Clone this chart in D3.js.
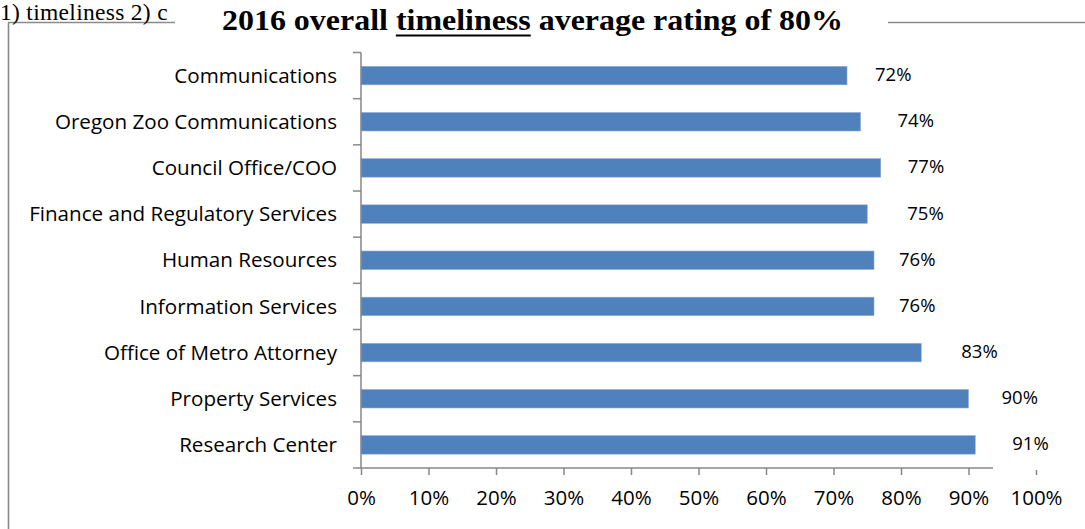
<!DOCTYPE html>
<html>
<head>
<meta charset="utf-8">
<script src="https://cdn.jsdelivr.net/npm/d3@7"></script>
<style>
  body { margin: 0; background: #fff; }
  svg { display: block; }
</style>
</head>
<body>
<svg id="chart" width="1085" height="529"></svg>
<script>
// Department timeliness ratings, 2016
const categories = [
  "Communications",
  "Oregon Zoo Communications",
  "Council Office/COO",
  "Finance and Regulatory Services",
  "Human Resources",
  "Information Services",
  "Office of Metro Attorney",
  "Property Services",
  "Research Center"
];
const values = [0.72, 0.74, 0.77, 0.75, 0.76, 0.76, 0.83, 0.90, 0.91];
const tickValues = [0, 0.1, 0.2, 0.3, 0.4, 0.5, 0.6, 0.7, 0.8, 0.9, 1.0];

// Layout: gap (px) between each bar end and its value label
const labelGap = [28, 37, 27, 40, 25, 25, 40, 33, 37];

const svg = d3.select("#chart");
const axisColor = "#878787";
const barColor = "#4F81BD";
const sans = "'Open Sans', sans-serif";
const serif = "'Liberation Serif', serif";

// Page frame around the chart
const frame = svg.append("g");
frame.append("line")
  .attr("x1", 8.5).attr("x2", 8.5).attr("y1", 22.5).attr("y2", 529)
  .attr("stroke", "#8a8a8a").attr("stroke-width", 1.6);
frame.append("line")
  .attr("x1", 8).attr("x2", 1085).attr("y1", 22.5).attr("y2", 22.5)
  .attr("stroke", "#8a8a8a").attr("stroke-width", 1.6);

// Running heading text at the top left
svg.append("text")
  .attr("x", 0).attr("y", 20)
  .attr("font-family", serif).attr("font-size", 23.5)
  .attr("letter-spacing", 0.3)
  .attr("fill", "#000")
  .text("1) timeliness 2) c");

// Title block (white backing hides the frame line behind it)
svg.append("rect")
  .attr("x", 175).attr("y", 0).attr("width", 713).attr("height", 42)
  .attr("fill", "#fff");

const title = svg.append("text")
  .attr("x", 222).attr("y", 29.5)
  .attr("font-family", serif).attr("font-size", 29).attr("font-weight", "bold")
  .attr("textLength", 621).attr("lengthAdjust", "spacingAndGlyphs")
  .attr("fill", "#000");
const tPre = "2016 overall ";
const tMid = "timeliness";
const tPost = " average rating of 80%";
title.text(tPre + tMid + tPost);
const tNode = title.node();
const uStart = tNode.getStartPositionOfChar(tPre.length).x;
const uEnd = tNode.getEndPositionOfChar(tPre.length + tMid.length - 1).x;
svg.append("line")
  .attr("x1", uStart).attr("x2", uEnd).attr("y1", 35.5).attr("y2", 35.5)
  .attr("stroke", "#000").attr("stroke-width", 2);

// Scales
const x = d3.scaleLinear().domain([0, 1]).range([361, 1036]);
const y = d3.scaleBand().domain(categories)
  .range([52.5, 468]).paddingInner(0.6).paddingOuter(0.3);
const step = y.step();
const baseY = 468;

// Bars
svg.append("g").selectAll("rect")
  .data(categories)
  .join("rect")
  .attr("x", x(0))
  .attr("y", d => y(d))
  .attr("width", (d, i) => x(values[i]) - x(0))
  .attr("height", y.bandwidth())
  .attr("fill", barColor)
  .attr("stroke", "#8eabd3").attr("stroke-width", 0.6);

// Value labels
svg.append("g").selectAll("text")
  .data(categories)
  .join("text")
  .attr("x", (d, i) => x(values[i]) + labelGap[i])
  .attr("y", d => y(d) + y.bandwidth() / 2 - 1)
  .attr("dy", "0.35em")
  .attr("font-family", sans).attr("font-size", 18.5)
  .attr("fill", "#000")
  .text((d, i) => d3.format(".0%")(values[i]));

// Category axis: line plus ticks at band boundaries
const yAxis = svg.append("g");
yAxis.append("line")
  .attr("x1", x(0)).attr("x2", x(0)).attr("y1", 52.5).attr("y2", baseY)
  .attr("stroke", axisColor).attr("stroke-width", 1.5);
yAxis.selectAll(".bt")
  .data(d3.range(categories.length + 1))
  .join("line")
  .attr("x1", x(0) - 8).attr("x2", x(0))
  .attr("y1", i => 52.5 + i * step).attr("y2", i => 52.5 + i * step)
  .attr("stroke", axisColor).attr("stroke-width", 1.5);
yAxis.selectAll(".cl")
  .data(categories)
  .join("text")
  .attr("x", 337)
  .attr("y", d => y(d) + y.bandwidth() / 2)
  .attr("dy", "0.35em")
  .attr("text-anchor", "end")
  .attr("font-family", sans).attr("font-size", 20.6)
  .attr("fill", "#000")
  .text(d => d);

// Value axis
const xAxis = svg.append("g")
  .attr("transform", `translate(0,${baseY})`)
  .call(d3.axisBottom(x).tickValues(tickValues).tickFormat(d3.format(".0%")).tickSize(7));
xAxis.select(".domain").remove();
xAxis.selectAll(".tick line")
  .attr("stroke", axisColor).attr("stroke-width", 1.5)
  .attr("y1", d => d === 1 ? 2 : 0);
xAxis.selectAll(".tick text")
  .attr("y", 30).attr("dy", "0.35em")
  .attr("font-family", sans).attr("font-size", 20.5)
  .attr("fill", "#000");
xAxis.append("line")
  .attr("x1", x(0)).attr("x2", 993).attr("y1", 0).attr("y2", 0)
  .attr("stroke", axisColor).attr("stroke-width", 1.5);
</script>
</body>
</html>
